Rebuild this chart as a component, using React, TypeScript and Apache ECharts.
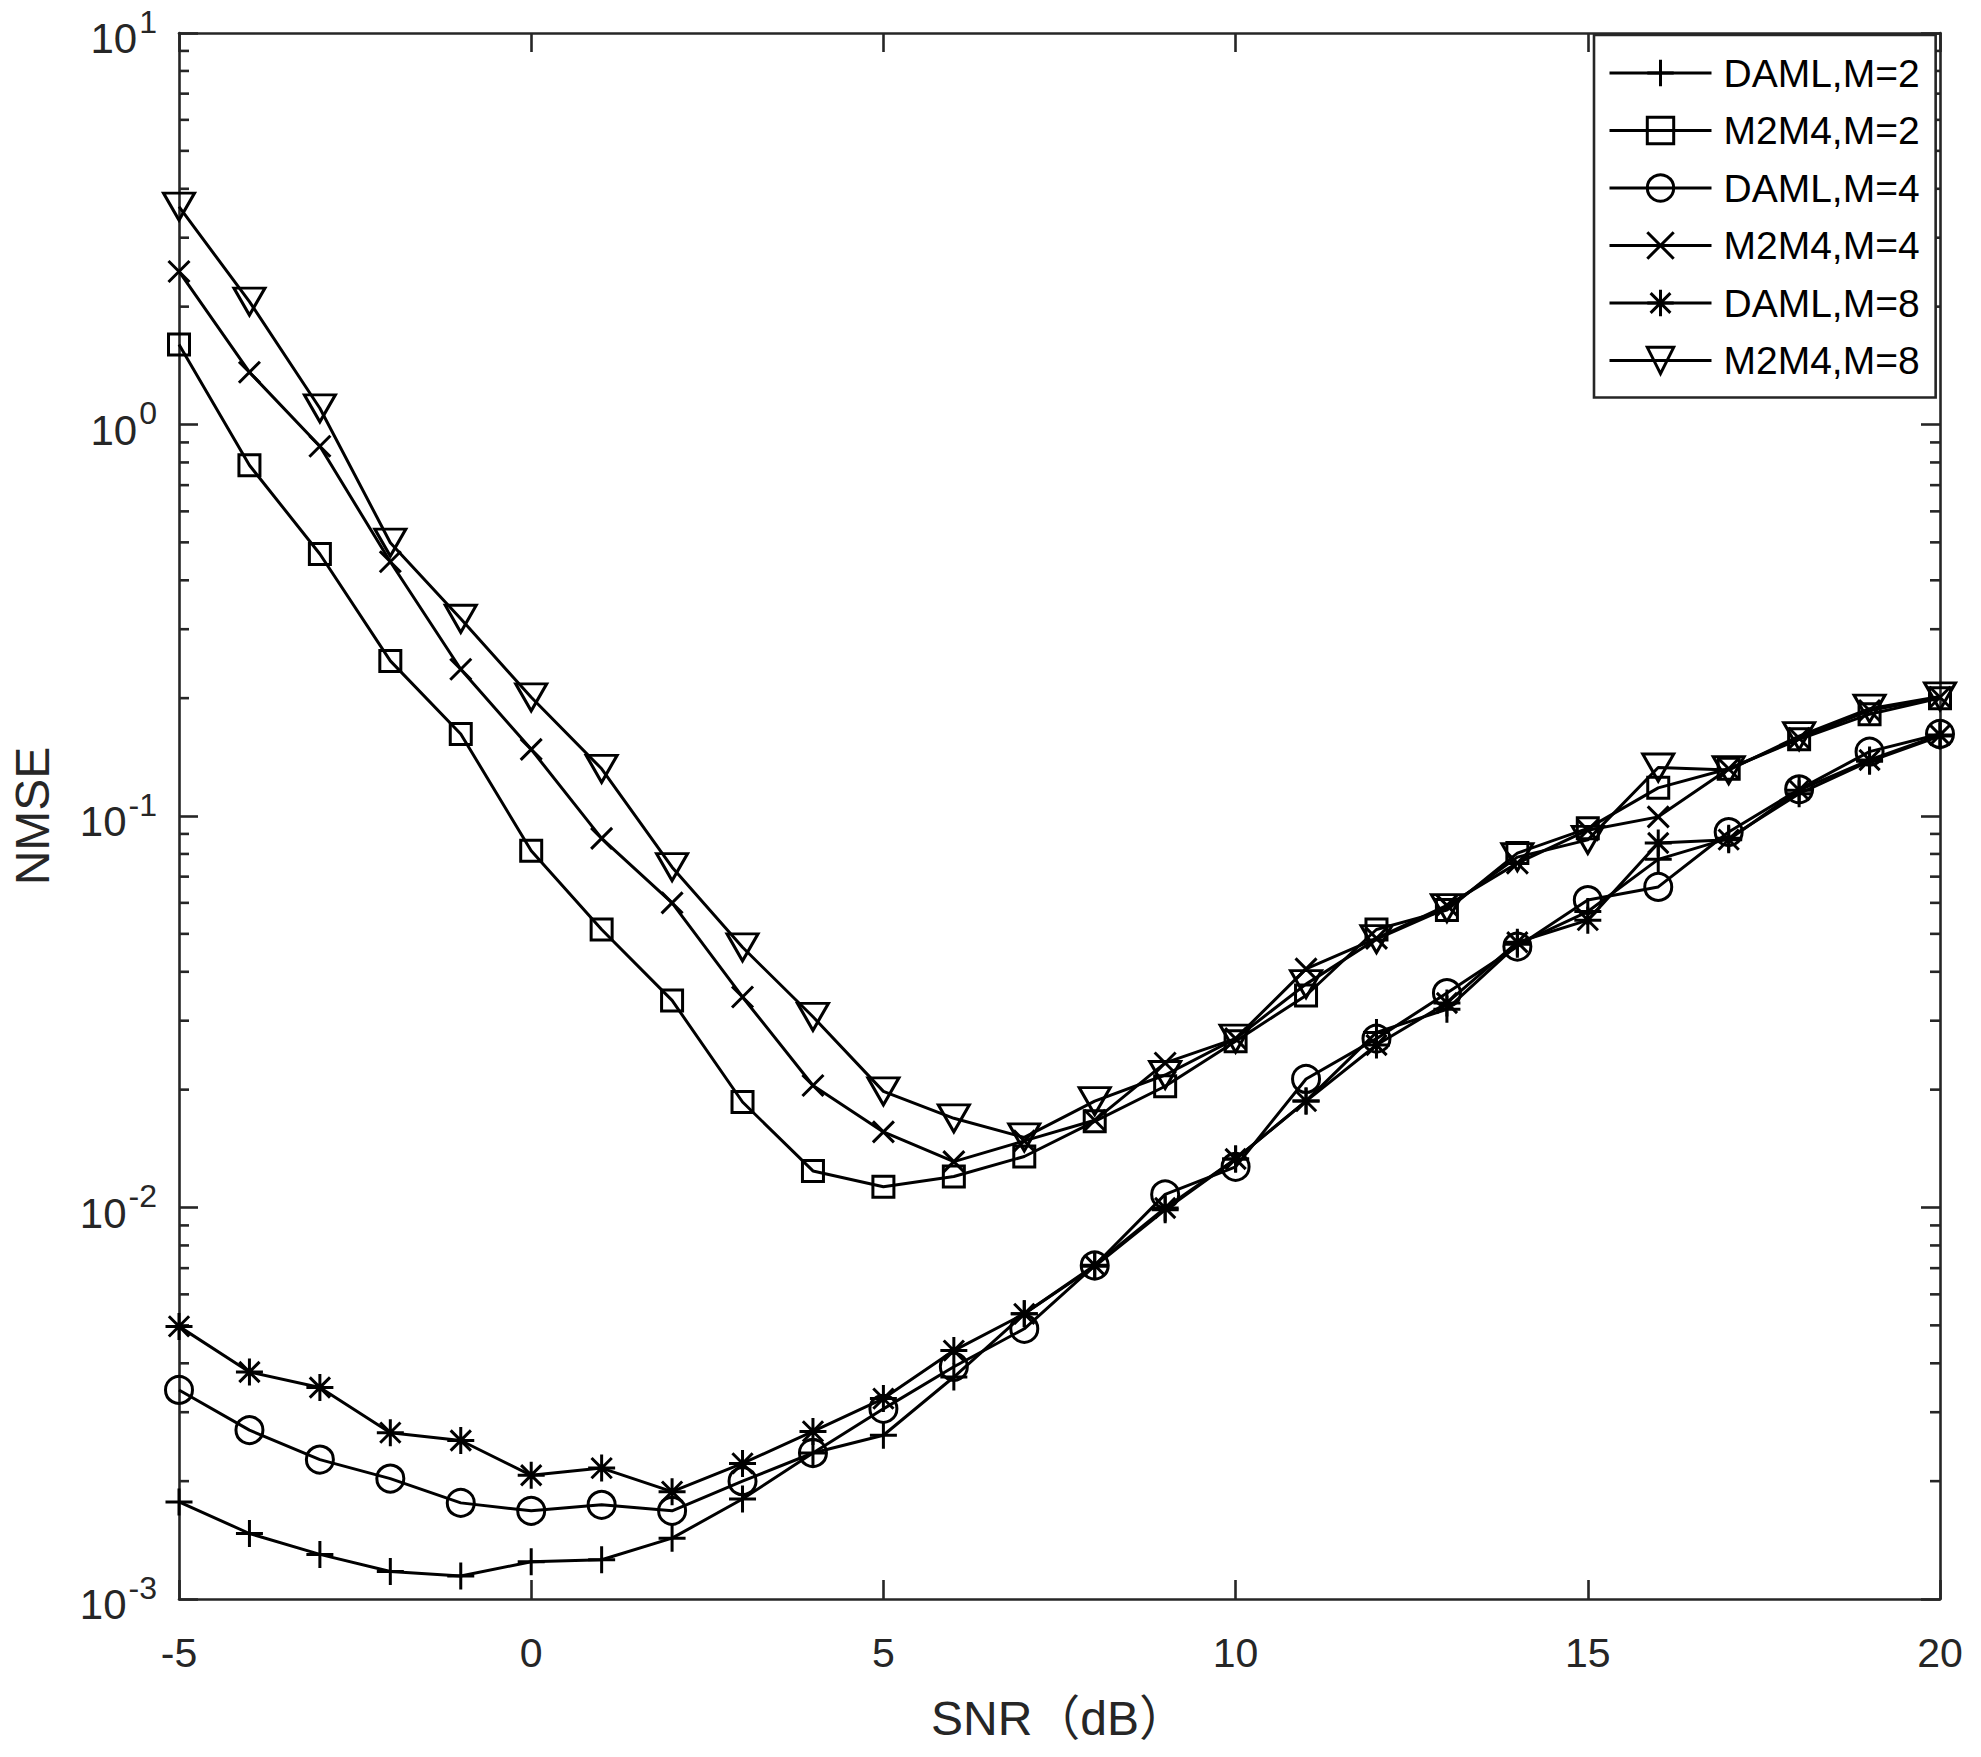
import React, { useEffect, useRef } from 'react';
import * as echarts from 'echarts';

// ---------- data ----------
const SNR = [-5, -4, -3, -2, -1, 0, 1, 2, 3, 4, 5, 6, 7, 8, 9, 10, 11, 12, 13, 14, 15, 16, 17, 18, 19, 20];

const DAML_M2 = [1.77e-3, 1.47e-3, 1.30e-3, 1.175e-3, 1.145e-3, 1.245e-3, 1.26e-3, 1.43e-3, 1.80e-3, 2.36e-3, 2.62e-3, 3.69e-3, 5.35e-3, 7.08e-3, 9.87e-3, 1.33e-2, 1.87e-2, 2.80e-2, 3.21e-2, 4.70e-2, 5.70e-2, 7.75e-2, 8.77e-2, 0.114, 0.138, 0.160];
const M2M4_M2 = [1.60, 0.787, 0.467, 0.249, 0.162, 8.15e-2, 5.13e-2, 3.38e-2, 1.86e-2, 1.24e-2, 1.13e-2, 1.20e-2, 1.35e-2, 1.66e-2, 2.04e-2, 2.66e-2, 3.48e-2, 5.13e-2, 5.75e-2, 8.04e-2, 9.3e-2, 0.118, 0.132, 0.157, 0.182, 0.200];
const DAML_M4 = [3.42e-3, 2.70e-3, 2.27e-3, 2.03e-3, 1.76e-3, 1.68e-3, 1.74e-3, 1.68e-3, 2.00e-3, 2.36e-3, 3.06e-3, 3.92e-3, 4.90e-3, 7.11e-3, 1.08e-2, 1.27e-2, 2.13e-2, 2.70e-2, 3.53e-2, 4.64e-2, 6.10e-2, 6.59e-2, 9.1e-2, 0.117, 0.146, 0.162];
const M2M4_M4 = [2.46, 1.36, 0.880, 0.446, 0.237, 0.148, 8.77e-2, 6.00e-2, 3.45e-2, 2.05e-2, 1.56e-2, 1.31e-2, 1.48e-2, 1.67e-2, 2.34e-2, 2.70e-2, 4.07e-2, 4.87e-2, 5.91e-2, 7.58e-2, 9.2e-2, 0.0995, 0.132, 0.158, 0.186, 0.201];
const DAML_M8 = [4.97e-3, 3.80e-3, 3.47e-3, 2.66e-3, 2.54e-3, 2.07e-3, 2.16e-3, 1.88e-3, 2.22e-3, 2.68e-3, 3.25e-3, 4.31e-3, 5.35e-3, 7.12e-3, 9.97e-3, 1.33e-2, 1.87e-2, 2.60e-2, 3.33e-2, 4.76e-2, 5.42e-2, 8.53e-2, 8.7e-2, 0.1164, 0.139, 0.161];
const M2M4_M8 = [3.60, 2.06, 1.10, 0.499, 0.319, 0.201, 0.132, 7.40e-2, 4.62e-2, 3.07e-2, 1.98e-2, 1.69e-2, 1.51e-2, 1.87e-2, 2.18e-2, 2.70e-2, 3.72e-2, 4.85e-2, 5.82e-2, 7.85e-2, 8.69e-2, 0.133, 0.131, 0.160, 0.188, 0.202];

const SERIES_NAMES = ['DAML,M=2', 'M2M4,M=2', 'DAML,M=4', 'M2M4,M=4', 'DAML,M=8', 'M2M4,M=8'];

// axis ranges and tick structure
const X_MIN = -5;
const X_MAX = 20;
const X_INTERVAL = 5;
const Y_MIN = 1e-3;
const Y_MAX = 10;
const MINOR_MANTISSAS = [2, 3, 4, 5, 6, 7, 8, 9];
const MINOR_DECADES = [-3, -2, -1, 0];

const X_TITLE = 'SNR（dB）';
const Y_TITLE = 'NMSE';

// ---------- styling ----------
const FONT = "'Liberation Sans', Arial, Helvetica, 'Noto Sans CJK SC', sans-serif";
const AXIS_COLOR = '#262626';
const AXIS_W = 2.6;
const LINE_W = 3;

const PLUS = 'path://M0,-10L0,10M-10,0L10,0';
const CROSS = 'path://M-10,-10L10,10M-10,10L10,-10';
const STAR = 'path://M0,-10L0,10M-10,0L10,0M-7.5,-7.5L7.5,7.5M-7.5,7.5L7.5,-7.5';

const SERIES_STYLE: Array<{ symbol: string; size: number | number[]; rotate?: number }> = [
  { symbol: PLUS, size: 27 },
  { symbol: 'rect', size: 21 },
  { symbol: 'circle', size: 27 },
  { symbol: CROSS, size: 21 },
  { symbol: STAR, size: 27 },
  { symbol: 'triangle', size: [31, 27], rotate: 180 },
];

const SERIES_DATA = [DAML_M2, M2M4_M2, DAML_M4, M2M4_M4, DAML_M8, M2M4_M8];

export default function App() {
  const ref = useRef<HTMLDivElement>(null);

  useEffect(() => {
    if (!ref.current) return;
    const chart = echarts.init(ref.current, null, { renderer: 'svg' });

    const minorValues: number[] = [];
    MINOR_DECADES.forEach((d) => MINOR_MANTISSAS.forEach((m) => minorValues.push(m * Math.pow(10, d))));

    const lineSeries = SERIES_NAMES.map((name, k) => ({
      name,
      type: 'line',
      xAxisIndex: 0,
      yAxisIndex: 0,
      data: SNR.map((x, i) => [x, SERIES_DATA[k][i]]),
      symbol: SERIES_STYLE[k].symbol,
      symbolSize: SERIES_STYLE[k].size,
      symbolRotate: SERIES_STYLE[k].rotate || 0,
      showAllSymbol: true,
      silent: true,
      z: 3 + k,
      lineStyle: { color: '#000', width: LINE_W },
      itemStyle: { color: 'rgba(0,0,0,0)', borderColor: '#000', borderWidth: LINE_W },
      emphasis: { disabled: true },
    }));

    const minorTickSeries = {
      type: 'custom',
      xAxisIndex: 0,
      yAxisIndex: 0,
      silent: true,
      clip: false,
      z: 2,
      data: minorValues.map((v) => [X_MIN, v]),
      renderItem: (_params: any, api: any) => {
        const v = api.value(1);
        const l = api.coord([X_MIN, v]);
        const r = api.coord([X_MAX, v]);
        return {
          type: 'group',
          children: [
            { type: 'line', shape: { x1: l[0], y1: l[1], x2: l[0] + 10, y2: l[1] }, style: { stroke: AXIS_COLOR, lineWidth: AXIS_W } },
            { type: 'line', shape: { x1: r[0] - 10, y1: r[1], x2: r[0], y2: r[1] }, style: { stroke: AXIS_COLOR, lineWidth: AXIS_W } },
          ],
        };
      },
    };

    const axisLine = { show: true, onZero: false, lineStyle: { color: AXIS_COLOR, width: AXIS_W } };
    const axisTick = { show: true, inside: true, length: 19, lineStyle: { color: AXIS_COLOR, width: AXIS_W } };

    const option: any = {
      animation: false,
      backgroundColor: '#fff',
      grid: { left: 179, right: 41, top: 33, bottom: 158, containLabel: false, outerBoundsMode: 'none' },
      xAxis: [
        {
          type: 'value',
          position: 'bottom',
          min: X_MIN,
          max: X_MAX,
          interval: X_INTERVAL,
          axisLine,
          axisTick,
          splitLine: { show: false },
          axisLabel: {
            show: true,
            margin: 33,
            fontSize: 41,
            fontFamily: FONT,
            color: AXIS_COLOR,
            showMinLabel: true,
            showMaxLabel: true,
          },
        },
        {
          type: 'value',
          position: 'top',
          min: X_MIN,
          max: X_MAX,
          interval: X_INTERVAL,
          axisLine,
          axisTick,
          splitLine: { show: false },
          axisLabel: { show: false },
        },
      ],
      yAxis: [
        {
          type: 'log',
          logBase: 10,
          position: 'left',
          min: Y_MIN,
          max: Y_MAX,
          splitNumber: 4,
          axisLine,
          axisTick,
          splitLine: { show: false },
          minorTick: { show: false },
          axisLabel: {
            show: true,
            margin: 22,
            showMinLabel: true,
            showMaxLabel: true,
            padding: [11, 0, 0, 0],
            formatter: (value: number) => {
              const e = Math.round(Math.log10(value));
              return '{b|10}{e|' + e + '}';
            },
            rich: {
              b: { fontSize: 42, fontFamily: FONT, color: AXIS_COLOR, lineHeight: 42, verticalAlign: 'bottom' },
              e: { fontSize: 32, fontFamily: FONT, color: AXIS_COLOR, lineHeight: 32, verticalAlign: 'bottom', padding: [0, 0, 22, 2] },
            },
          },
        },
        {
          type: 'log',
          logBase: 10,
          position: 'right',
          min: Y_MIN,
          max: Y_MAX,
          splitNumber: 4,
          axisLine,
          axisTick,
          splitLine: { show: false },
          axisLabel: { show: false },
        },
      ],
      legend: {
        show: true,
        data: SERIES_NAMES,
        orient: 'vertical',
        left: 1594,
        top: 35,
        itemWidth: 102,
        itemHeight: 33,
        itemGap: 17.5,
        padding: [18, 16, 17, 14],
        backgroundColor: '#fff',
        borderColor: AXIS_COLOR,
        borderWidth: AXIS_W,
        borderRadius: 0,
        selectedMode: false,
        symbolRotate: 'inherit',
        itemStyle: { borderColor: '#000', borderWidth: LINE_W },
        lineStyle: { color: '#000', width: LINE_W },
        textStyle: { fontSize: 39, fontFamily: FONT, color: '#000', lineHeight: 40, padding: [0, 0, 0, 7] },
      },
      graphic: [
        {
          type: 'text',
          x: 1059,
          y: 1718,
          silent: true,
          style: {
            text: X_TITLE,
            fontSize: 48,
            fontFamily: FONT,
            fill: AXIS_COLOR,
            align: 'center',
            verticalAlign: 'middle',
            textAlign: 'center',
            textVerticalAlign: 'middle',
          },
        },
        {
          type: 'text',
          x: 32,
          y: 816,
          rotation: Math.PI / 2,
          silent: true,
          style: {
            text: Y_TITLE,
            fontSize: 48,
            fontFamily: FONT,
            fill: AXIS_COLOR,
            align: 'center',
            verticalAlign: 'middle',
            textAlign: 'center',
            textVerticalAlign: 'middle',
          },
        },
      ],
      series: [minorTickSeries, ...lineSeries],
    };

    chart.setOption(option);
    return () => chart.dispose();
  }, []);

  return (
    <div
      ref={ref}
      style={{ position: 'fixed', left: 0, top: 0, width: 1981, height: 1757, background: '#fff' }}
    />
  );
}
